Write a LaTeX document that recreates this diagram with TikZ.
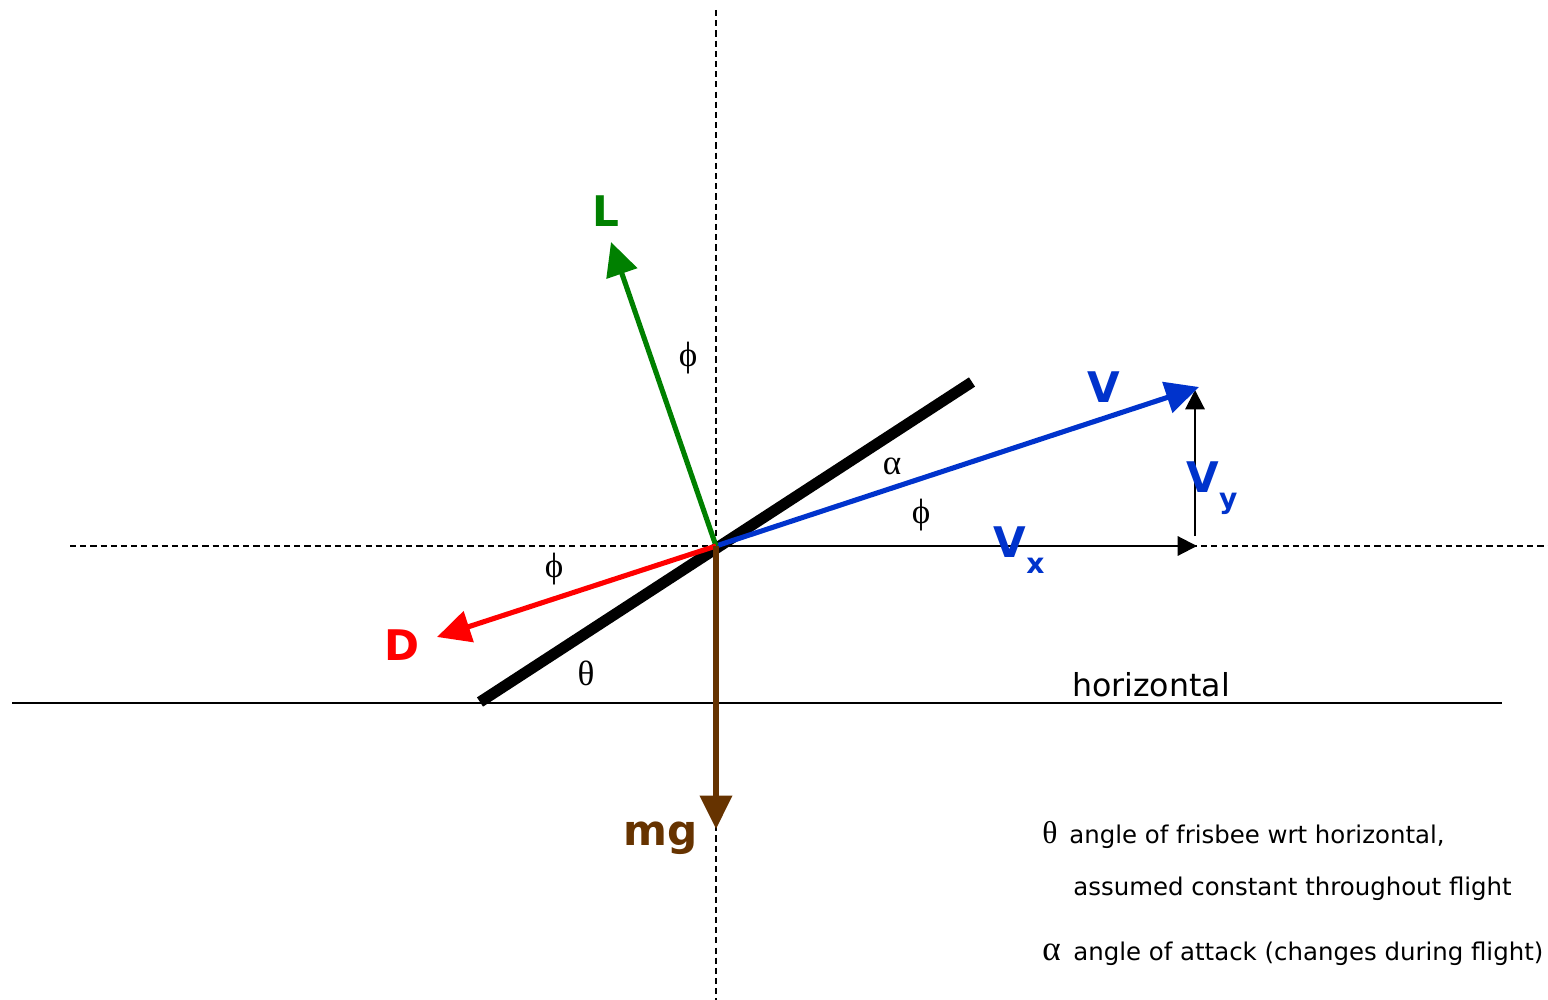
\documentclass[tikz,border=0pt]{standalone}
\usepackage{fontspec}
\setmainfont{DejaVu Sans}
\newfontfamily\greekfont{Liberation Serif}
\usetikzlibrary{arrows.meta}
\definecolor{liftgreen}{RGB}{0,128,0}
\definecolor{velblue}{RGB}{0,51,204}
\definecolor{dragred}{RGB}{255,0,0}
\definecolor{weightbrown}{RGB}{102,51,0}
\tikzset{
  guide/.style={line width=1pt,dash pattern=on 3.5pt off 2.3pt},
  force/.style={line width=2.9pt,-{Triangle[length=19pt,width=18pt]}},
  comp/.style={line width=1.2pt,-{Triangle[length=11pt,width=11pt]}},
  vlabel/.style={inner sep=0pt,font=\fontsize{24}{24}\selectfont\bfseries},
  ang/.style={inner sep=0pt,font=\greekfont\fontsize{20}{20}\selectfont},
  legend/.style={inner sep=0pt,anchor=base west,font=\fontsize{13.9}{13.9}\selectfont}
}
\begin{document}
\begin{tikzpicture}[x=0.02cm,y=-0.02cm]
  \useasboundingbox (0,0) rectangle (1548,1000);
  \coordinate (O) at (716,546);

  % Reference lines
  \coordinate (vtop) at (716,10);
  \coordinate (vbot) at (716,1000);
  \coordinate (hleft) at (70,546);
  \coordinate (hright) at (1548,546);
  \coordinate (gleft) at (12,703);
  \coordinate (gright) at (1502,703);
  \draw[guide] (vtop) -- (vbot);
  \draw[guide] (hleft) -- (hright);
  \draw[line width=1.1pt] (gleft) -- (gright);
  \node (hor) at (1151,685) {\fontsize{18}{18}\selectfont horizontal};

  % Frisbee
  \coordinate (fa) at (480,702);
  \coordinate (fb) at (972,382);
  \draw[line width=6.3pt] (fa) -- (fb);

  % Velocity and its components
  \coordinate (Vtip) at (1199,387);
  \coordinate (Vxtip) at (1197,546);
  \coordinate (Vybase) at (1195,536);
  \coordinate (Vytip) at (1195,390);
  \draw[comp] (O) -- (Vxtip);
  \draw[comp] (Vybase) -- (Vytip);
  \draw[force,velblue] (O) -- (Vtip);
  \node[vlabel,velblue] (V) at (1104,387) {V};
  \node[vlabel,velblue] (Vx) at (1019,550) {V\raisebox{-9pt}{\fontsize{16}{16}\selectfont x}};
  \node[vlabel,velblue] (Vy) at (1212,488) {V\raisebox{-9pt}{\fontsize{16}{16}\selectfont y}};

  % Forces
  \coordinate (Ltip) at (611,242);
  \coordinate (Dtip) at (437,637);
  \coordinate (mgtip) at (716,829);
  \draw[force,liftgreen] (O) -- (Ltip);
  \draw[force,dragred] (O) -- (Dtip);
  \draw[force,weightbrown] (O) -- (mgtip);
  \node[vlabel,liftgreen] (L) at (606,211) {L};
  \node[vlabel,dragred] (D) at (402,645) {D};
  \node[vlabel,weightbrown] (mg) at (661,838) {mg};

  % Angles
  \node[ang] (phiL) at (688,358) {ϕ};
  \node[ang] (phiV) at (921,515) {ϕ};
  \node[ang] (phiD) at (554,569) {ϕ};
  \node[ang] (alpha) at (892,466) {α};
  \node[ang] (theta) at (586,673) {θ};

  % Legend
  \node[ang,anchor=base west,font=\greekfont\fontsize{18}{18}\selectfont] (kth) at (1042,843) {θ};
  \node[legend] (kt1) at (1069,843) {angle of frisbee wrt horizontal,};
  \node[legend] (kt2) at (1073,895) {assumed constant throughout flight};
  \node[ang,anchor=base west,font=\greekfont\fontsize{20}{20}\selectfont] (kal) at (1042,960) {α};
  \node[legend] (ka1) at (1073,960) {angle of attack (changes during flight)};
\end{tikzpicture}
\end{document}
